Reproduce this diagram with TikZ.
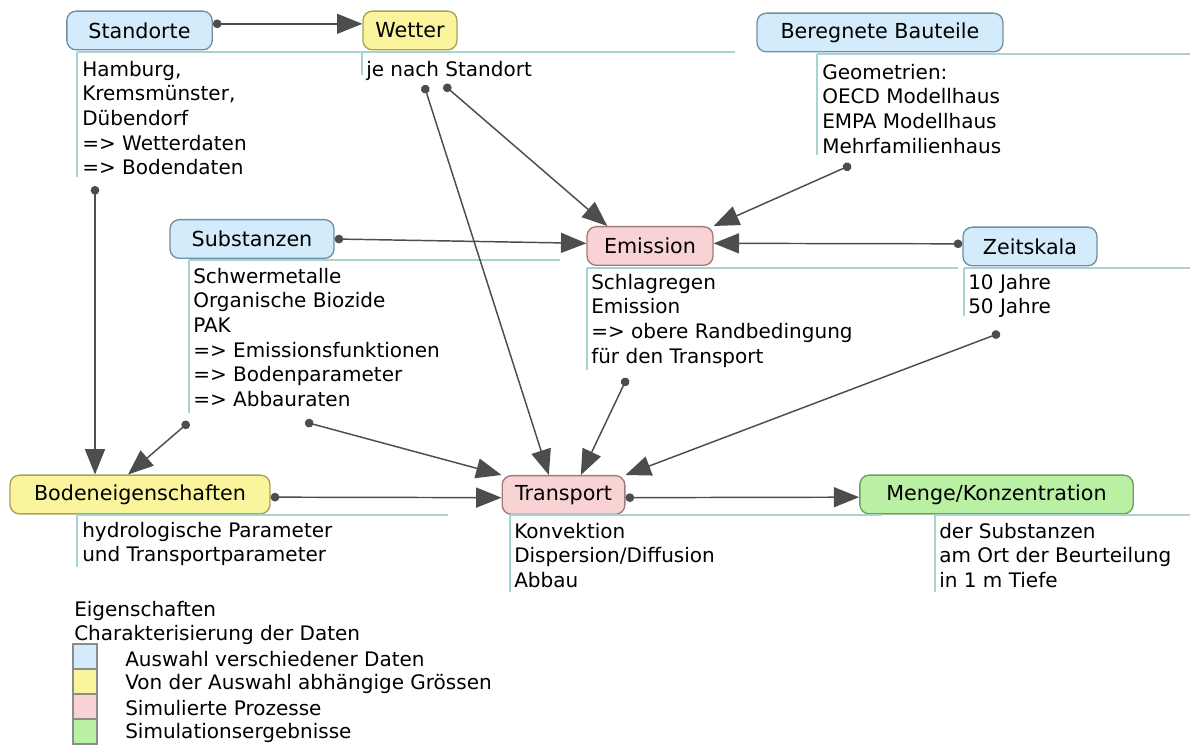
\documentclass[tikz,border=0pt]{standalone}
\usepackage{fontspec}
\setmainfont{DejaVu Sans}
\usetikzlibrary{arrows.meta}

\definecolor{blueBox}{HTML}{D3EBFA}
\definecolor{blueLine}{HTML}{6F8FA3}
\definecolor{yellowBox}{HTML}{FAF49C}
\definecolor{yellowLine}{HTML}{A8A25A}
\definecolor{pinkBox}{HTML}{F9D3D3}
\definecolor{pinkLine}{HTML}{A07A7A}
\definecolor{greenBox}{HTML}{B9F0A4}
\definecolor{greenLine}{HTML}{6E9E62}
\definecolor{noteLine}{HTML}{A9D3D3}
\definecolor{connGray}{HTML}{4D4D4D}

\tikzset{
  box/.style={draw, rounded corners=7pt, line width=1pt, minimum height=29pt, inner sep=0pt, font=\fontsize{15.5}{18}\selectfont},
  bluebox/.style={box, fill=blueBox, draw=blueLine},
  yellowbox/.style={box, fill=yellowBox, draw=yellowLine},
  pinkbox/.style={box, fill=pinkBox, draw=pinkLine},
  greenbox/.style={box, fill=greenBox, draw=greenLine},
  note/.style={anchor=north west, inner sep=0pt, align=left, font=\fontsize{15}{18.4}\selectfont},
  noteline/.style={draw=noteLine, line width=0.8pt},
  conn/.style={draw=connGray, line width=1.1pt, arrows={Circle[length=6.5pt]-Triangle[length=19pt,width=15pt]}},
  legsq/.style={draw=black!45, line width=1.2pt, minimum width=18pt, minimum height=18.75pt, inner sep=0pt},
}

\begin{document}
\begin{tikzpicture}[x=0.75pt, y=-0.75pt]
  \useasboundingbox (0,0) rectangle (1190,745);

  %%%%% boxes %%%%%
  \node[bluebox, minimum width=109pt] (stand) at (139.5,30.5) {Standorte};
  \node[yellowbox, minimum width=70.5pt] (wetter) at (410,30.5) {Wetter};
  \node[bluebox, minimum width=184.5pt] (bauteil) at (880,32.5) {Beregnete Bauteile};
  \node[bluebox, minimum width=123pt] (sub) at (252,239) {Substanzen};
  \node[pinkbox, minimum width=94.5pt] (emis) at (650,246) {Emission};
  \node[bluebox, minimum width=100.5pt] (zeit) at (1030,246.5) {Zeitskala};
  \node[yellowbox, minimum width=195pt] (bod) at (140,494.5) {Bodeneigenschaften};
  \node[pinkbox, minimum width=92pt] (trans) at (563.5,495) {Transport};
  \node[greenbox, minimum width=205pt] (menge) at (996.5,494.5) {Menge/Konzentration};

  %%%%% notes %%%%%
  \draw[noteline] (77,52) -- (362,52) (77,52) -- (77,177);
  \node[note] (standnote) at (82,61) {Hamburg,\\Kremsmünster,\\Dübendorf\\=> Wetterdaten\\=> Bodendaten};

  \draw[noteline] (362,52) -- (735,52) (362,52) -- (362,75);
  \node[note] (wetnote) at (366,61) {je nach Standort};

  \draw[noteline] (817,54) -- (1190,54) (817,54) -- (817,155);
  \node[note] (bauteilnote) at (822,64) {Geometrien:\\OECD Modellhaus\\EMPA Modellhaus\\Mehrfamilienhaus};

  \draw[noteline] (189,260) -- (560,260) (189,260) -- (189,413);
  \node[note] (subnote) at (193,268) {Schwermetalle\\Organische Biozide\\PAK\\=> Emissionsfunktionen\\=> Bodenparameter\\=> Abbauraten};

  \draw[noteline] (587,268) -- (958,268) (587,268) -- (587,370);
  \node[note] (emisnote) at (591,274) {Schlagregen\\Emission\\=> obere Randbedingung\\für den Transport};

  \draw[noteline] (964,268) -- (1190,268) (964,268) -- (964,316);
  \node[note] (zeitnote) at (968,274) {10 Jahre\\50 Jahre};

  \draw[noteline] (77,515) -- (448,515) (77,515) -- (77,567);
  \node[note] (bodnote) at (82,522) {hydrologische Parameter\\und Transportparameter};

  \draw[noteline] (510,515) -- (882,515) (510,515) -- (510,592);
  \node[note] (transnote) at (514,523) {Konvektion\\Dispersion/Diffusion\\Abbau};

  \draw[noteline] (935,515) -- (1190,515) (935,515) -- (935,592);
  \node[note] (mengenote) at (939,523) {der Substanzen\\am Ort der Beurteilung\\in 1 m Tiefe};

  %%%%% connectors %%%%%
  \coordinate (standdot) at (95,186);
  \coordinate (wetdotA) at (424,85);
  \coordinate (wetdotB) at (444,85);
  \coordinate (bauteildot) at (851,165);
  \coordinate (subdotA) at (189,422);
  \coordinate (subdotB) at (305,422);
  \coordinate (emisdot) at (627,378);
  \coordinate (zeitdot) at (1000,333);

  \draw[conn] ([yshift=5pt]stand.east) -- ([yshift=5pt]wetter.west);
  \draw[conn] (standdot) -- (standdot |- bod.north);
  \draw[conn] (subdotA) -- ([xshift=-9pt]bod.north);
  \draw[conn] (sub.east) -- ([yshift=2pt]emis.west);
  \draw[conn] ([yshift=2pt]zeit.west) -- ([yshift=2pt]emis.east);
  \draw[conn] (wetdotB) -- ([xshift=-32pt]emis.north);
  \draw[conn] (bauteildot) -- (emis.north east);
  \draw[conn] (wetdotA) -- ([xshift=-11pt]trans.north);
  \draw[conn] (subdotB) -- (trans.north west);
  \draw[conn] (emisdot) -- ([xshift=13pt]trans.north);
  \draw[conn] (zeitdot) -- (trans.north east);
  \draw[conn] ([yshift=-2pt]bod.east) -- ([yshift=-2pt]trans.west);
  \draw[conn] ([yshift=-2pt]trans.east) -- ([yshift=-2pt]menge.west);

  %%%%% legend %%%%%
  \node[note] (legtitle) at (74,601) {Eigenschaften\\Charakterisierung der Daten};
  \node[legsq, fill=blueBox] (legblue) at (85,656.5) {};
  \node[legsq, fill=yellowBox] (legyellow) at (85,681.5) {};
  \node[legsq, fill=pinkBox] (legpink) at (85,706.5) {};
  \node[legsq, fill=greenBox] (leggreen) at (85,731.5) {};
  \node[note, anchor=west] (legbluetext) at (125,659) {Auswahl verschiedener Daten};
  \node[note, anchor=west] (legyellowtext) at (125,683.5) {Von der Auswahl abhängige Grössen};
  \node[note, anchor=west] (legpinktext) at (125,708) {Simulierte Prozesse};
  \node[note, anchor=west] (leggreentext) at (125,732.5) {Simulationsergebnisse};
\end{tikzpicture}
\end{document}
